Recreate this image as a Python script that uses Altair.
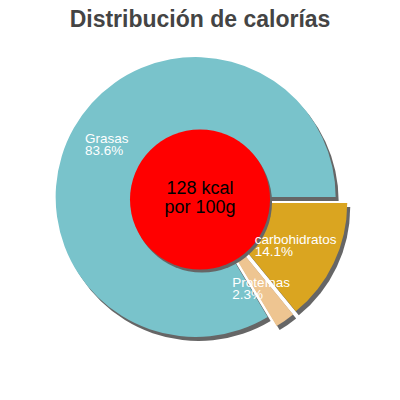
import math
import altair as alt
import pandas as pd

# ---- data ----
CATEGORIES = ["carbohidratos", "Proteínas", "Grasas"]
PERCENTS = [14.1, 2.3, 83.6]
CENTER_LINES = ["128 kcal", "por 100g"]
TITLE = "Distribución de calorías"

# ---- styling ----
COLORS = ["#DAA520", "#EEC591", "#79C3CB"]
EXPLODE = [8, 8, 5]
W, H, PAD_TOP = 384, 336, 48
CX, CY = 192, 143.5
R, R_CENTER, R_LABEL = 140, 70, 103
SDX, SDY = 3, 4
SHADOW = "#666666"
START = math.pi / 2
FONT = "Liberation Sans"
LABEL_SIZE = 13.5
HALF_CHAR = 3.5

df = pd.DataFrame({
    "cat": CATEGORIES,
    "pct": PERCENTS,
    "i": list(range(len(CATEGORIES))),
    "explode": EXPLODE,
})

base = (
    alt.Chart(df)
    .transform_window(cum="sum(pct)", sort=[alt.SortField("i")], frame=[None, 0])
    .transform_calculate(
        start=f"{START} + 2*PI*(datum.cum - datum.pct)/100",
        end=f"{START} + 2*PI*datum.cum/100",
    )
    .transform_calculate(mid="(datum.start + datum.end)/2")
    .transform_calculate(
        cx=f"{CX} + datum.explode*sin(datum.mid)",
        cy=f"{CY} - datum.explode*cos(datum.mid)",
    )
    .transform_calculate(
        sx=f"datum.cx + {SDX}",
        sy=f"datum.cy + {SDY}",
        lx=f"datum.cx + {R_LABEL}*sin(datum.mid) - {HALF_CHAR}*length(datum.cat)",
        ly=f"datum.cy - {R_LABEL}*cos(datum.mid)",
        label="datum.cat + '\\n' + format(datum.pct, '.1f') + '%'",
    )
)

shadow = base.mark_arc(radius=R, color=SHADOW).encode(
    theta=alt.Theta("start:Q", scale=None),
    theta2="end:Q",
    x=alt.X("sx:Q", scale=None),
    y=alt.Y("sy:Q", scale=None),
)

slices = base.mark_arc(radius=R).encode(
    theta=alt.Theta("start:Q", scale=None),
    theta2="end:Q",
    x=alt.X("cx:Q", scale=None),
    y=alt.Y("cy:Q", scale=None),
    color=alt.Color("cat:N", scale=alt.Scale(domain=CATEGORIES, range=COLORS), legend=None),
)

labels = base.mark_text(
    align="left", baseline="middle", lineBreak="\n", color="white",
    fontSize=LABEL_SIZE, lineHeight=11.5, font=FONT, dy=-7,
).encode(
    x=alt.X("lx:Q", scale=None),
    y=alt.Y("ly:Q", scale=None),
    text="label:N",
)

center_df = pd.DataFrame({"txt": ["\n".join(CENTER_LINES)]})
center_base = alt.Chart(center_df)

center_shadow = center_base.mark_arc(
    radius=R_CENTER, theta=0, theta2=2 * math.pi, color=SHADOW
).encode(x=alt.value(CX + SDX - 1), y=alt.value(CY + SDY - 1))

center_circle = center_base.mark_arc(
    radius=R_CENTER, theta=0, theta2=2 * math.pi, color="#FF0000"
).encode(x=alt.value(CX), y=alt.value(CY))

center_text = center_base.mark_text(
    align="center", baseline="middle", lineBreak="\n", color="black",
    fontSize=18, lineHeight=19, font=FONT, dy=-11,
).encode(x=alt.value(CX), y=alt.value(CY), text="txt:N")

chart = (
    alt.layer(shadow, slices, center_shadow, center_circle, center_text, labels)
    .properties(
        width=W,
        height=H,
        title=alt.Title(TITLE, fontSize=23, font=FONT, fontWeight="bold",
                        color="#444444", offset=24, anchor="middle"),
        autosize=alt.AutoSizeParams(type="none"),
        padding={"top": PAD_TOP, "left": 0, "right": 0, "bottom": 0},
    )
    .configure_view(stroke=None)
)

chart.save("out.html", embed_options={"renderer": "svg", "actions": False})
